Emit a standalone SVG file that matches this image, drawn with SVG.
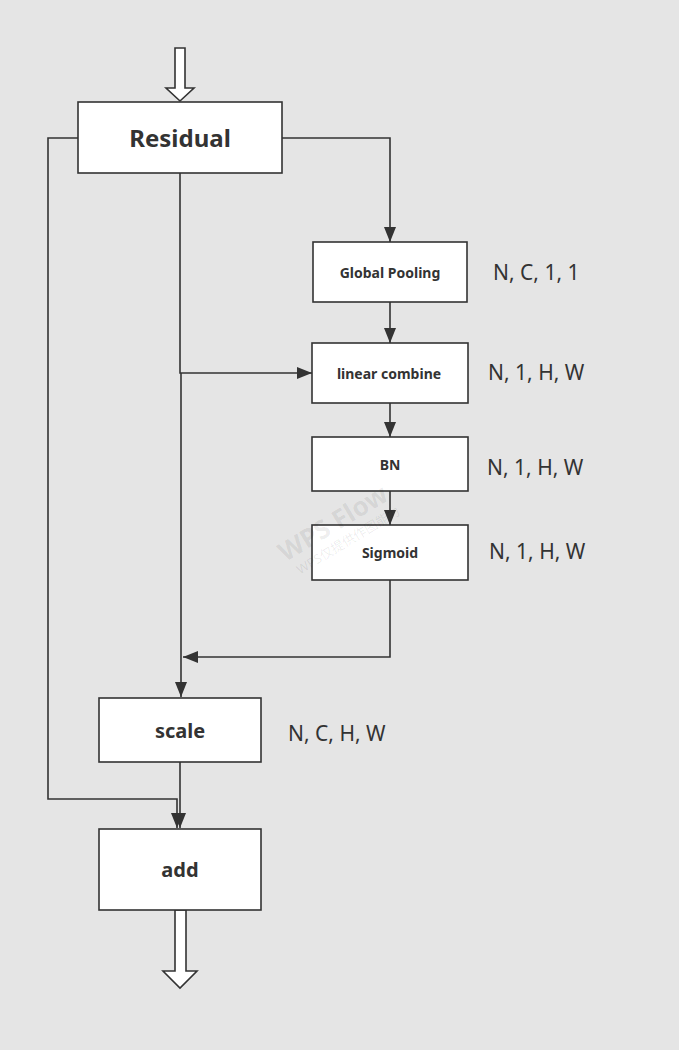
<svg xmlns="http://www.w3.org/2000/svg" width="679" height="1050" viewBox="0 0 679 1050">
<defs>
<marker id="ah" markerUnits="userSpaceOnUse" markerWidth="16" markerHeight="12" refX="15" refY="6" orient="auto">
<path d="M0,0 L15,6 L0,12 Z" fill="#333"/>
</marker>
<style>
.box{fill:#fff;stroke:#333;stroke-width:1.6}
.ln{fill:none;stroke:#333;stroke-width:1.6}
.hol{fill:#fff;stroke:#333;stroke-width:1.6;stroke-linejoin:miter}
.t{font-family:"Noto Sans","Open Sans",sans-serif;font-weight:bold;fill:#333;text-anchor:middle;dominant-baseline:central}
.lab{font-family:"Noto Sans","Open Sans",sans-serif;fill:#333;font-size:21px;dominant-baseline:central}
.wm{font-family:"Noto Sans","Noto Sans CJK SC",sans-serif;fill:#000;fill-opacity:0.08;text-anchor:middle}
</style>
</defs>
<rect x="0" y="0" width="679" height="1050" fill="#e5e5e5"/>

<g id="connectors">
<path class="hol" d="M175,48 L185,48 L185,88 L194,88 L180,101 L166,88 L175,88 Z"/>
<path class="ln" d="M78,138 L48,138 L48,799 L177,799 L177,828" marker-end="url(#ah)"/>
<path class="ln" d="M282,138 L390,138 L390,242" marker-end="url(#ah)"/>
<path class="ln" d="M390,302 L390,343" marker-end="url(#ah)"/>
<path class="ln" d="M180,173 L180,373 L312,373" marker-end="url(#ah)"/>
<path class="ln" d="M181,373 L181,697" marker-end="url(#ah)"/>
<path class="ln" d="M390,403 L390,437" marker-end="url(#ah)"/>
<path class="ln" d="M390,491 L390,525" marker-end="url(#ah)"/>
<path class="ln" d="M390,580 L390,657 L183,657" marker-end="url(#ah)"/>
<path class="ln" d="M180,762 L180,828" marker-end="url(#ah)"/>
<path class="hol" d="M175,910 L186,910 L186,971 L197,971 L180,988 L163,971 L175,971 Z"/>
</g>

<g id="residual">
<rect class="box" x="78" y="102" width="204" height="71"/>
<text class="t" x="180" y="137" font-size="24">Residual</text>
</g>
<g id="global-pooling">
<rect class="box" x="313" y="242" width="154" height="60"/>
<text class="t" x="390" y="272" font-size="14">Global Pooling</text>
</g>
<g id="linear-combine">
<rect class="box" x="312" y="343" width="156" height="60"/>
<text class="t" x="389" y="373" font-size="14">linear combine</text>
</g>
<g id="bn">
<rect class="box" x="312" y="437" width="156" height="54"/>
<text class="t" x="390" y="464" font-size="14">BN</text>
</g>
<g id="sigmoid">
<rect class="box" x="312" y="525" width="156" height="55"/>
<text class="t" x="390" y="552" font-size="14">Sigmoid</text>
</g>
<g id="scale">
<rect class="box" x="99" y="698" width="162" height="64"/>
<text class="t" x="180" y="730" font-size="20">scale</text>
</g>
<g id="add">
<rect class="box" x="99" y="829" width="162" height="81"/>
<text class="t" x="180" y="869" font-size="20">add</text>
</g>

<g id="labels">
<text class="lab" x="493" y="272">N, C, 1, 1</text>
<text class="lab" x="488" y="372">N, 1, H, W</text>
<text class="lab" x="487" y="467">N, 1, H, W</text>
<text class="lab" x="489" y="551">N, 1, H, W</text>
<text class="lab" x="288" y="733">N, C, H, W</text>
</g>

<g id="watermark">
<text class="wm" x="333" y="532" font-size="26" font-weight="bold" transform="rotate(-31 333 523)">WPS Flow</text>
<text class="wm" x="348" y="545" font-size="13" transform="rotate(-31 348 540)">WPS仅提供作图能力</text>
</g>
</svg>
